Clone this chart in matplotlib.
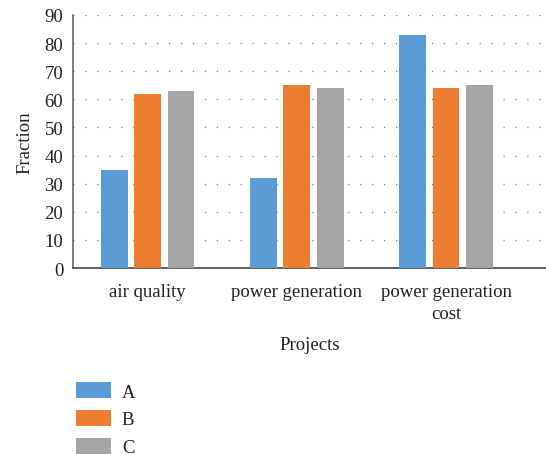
import matplotlib
matplotlib.use("Agg")
import matplotlib.pyplot as plt
import numpy as np

categories = ["air quality", "power generation", "power generation\ncost"]
series_names = ["A", "B", "C"]
values_A = [35, 32, 83]
values_B = [62, 65, 64]
values_C = [63, 64, 65]
colors = ["#5B9BD5", "#ED7D31", "#A5A5A5"]
yticks = [0, 10, 20, 30, 40, 50, 60, 70, 80, 90]

plt.rcParams['font.family'] = ['Liberation Serif', 'DejaVu Serif']
text_color = "#231f20"
fs = 13.5

fig = plt.figure(figsize=(5.46, 4.56), dpi=100)
ax = fig.add_axes([73/546, 1-269/456, (546-73)/546, (269-16)/456])

x = np.arange(len(categories))
w = 0.18
step = 0.224
for i, (vals, name) in enumerate(zip([values_A, values_B, values_C], series_names)):
    ax.bar(x + (i-1)*step, vals, width=w, color=colors[i], label=name, zorder=3)

ax.set_xlim(-0.5, 2.67)
ax.set_ylim(0, 90)
ax.set_yticks(yticks)
ax.set_xticks(x)
ax.set_xticklabels(categories, fontsize=fs, color=text_color, linespacing=1.35)
ax.tick_params(axis='y', length=0, pad=7, labelsize=fs, labelcolor=text_color)
ax.tick_params(axis='x', length=0, pad=11)
ax.yaxis.grid(True, linestyle=(0, (0.8, 7.8)), color="#777777", linewidth=1.0, zorder=0)
ax.set_axisbelow(True)
for s in ["top", "right"]:
    ax.spines[s].set_visible(False)
ax.spines["left"].set_color("#666666")
ax.spines["bottom"].set_color("#444444")
ax.spines["left"].set_linewidth(1.2)
ax.spines["bottom"].set_linewidth(1.2)
ax.xaxis.grid(False)

ax.set_ylabel("Fraction", fontsize=fs, color=text_color, labelpad=8)
ax.set_xlabel("Projects", fontsize=fs, color=text_color, labelpad=10)

fig.legend(loc="upper left", bbox_to_anchor=(76/546, 1-383/456), frameon=False,
           fontsize=fs, handlelength=1.85, handleheight=0.95, labelspacing=0.5,
           handletextpad=0.6, labelcolor=text_color, borderpad=0, borderaxespad=0)

fig.savefig("out.png", dpi=100)
